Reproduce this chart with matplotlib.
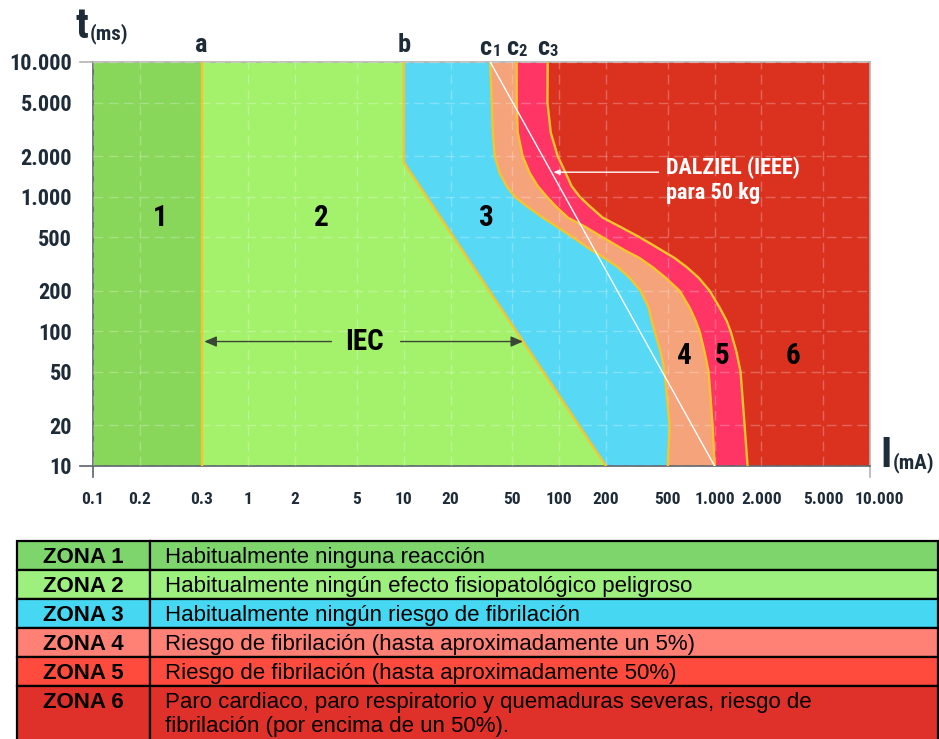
import numpy as np
import matplotlib
matplotlib.use('Agg')
import matplotlib.pyplot as plt
import matplotlib.transforms as mtransforms
from matplotlib.patches import Rectangle

# zone boundaries: current I in mA, duration t in ms
a_current = 0.5
b_current = [10, 10, 200]
b_time = [10000, 1800, 10]

c_time = [10000, 5000, 3000, 2000, 1500, 1200, 1000, 850, 700, 600, 500, 400, 350, 300,
          250, 200, 150, 120, 100, 70, 50, 20, 10]
c1_current = [36, 36.8, 37.4, 38.5, 41.4, 45.9, 51.7, 61.8, 78.3, 96.3, 122, 162, 196, 238,
              284, 334, 376, 394, 411, 450, 477, 514, 500]
c2_current = [53.3, 53.3, 54.1, 58.2, 64.6, 72.7, 83.1, 94.9, 113.5, 146, 190, 264, 329, 399,
              484, 596, 691, 755, 801, 863, 915, 971, 1000]
c3_current = [84.3, 84, 88.2, 97.8, 110, 120, 135.5, 157, 190, 245, 329, 456, 553, 661,
              789, 929, 1077, 1194, 1268, 1384, 1469, 1560, 1630]

dalziel_current = [36, 1000]
dalziel_time = [10000, 10]

x_ticks = [0.1, 0.2, a_current, 1, 2, 5, 10, 20, 50, 100, 200, 500, 1000, 2000, 5000, 10000]
x_labels = ['0.1', '0.2', '0.3', '1', '2', '5', '10', '20', '50', '100', '200', '500',
            '1.000', '2.000', '5.000', '10.000']
y_ticks = [10, 20, 50, 100, 200, 500, 1000, 2000, 5000, 10000]
y_labels = ['10', '20', '50', '100', '200', '500', '1.000', '2.000', '5.000', '10.000']

zone_names = ['ZONA 1', 'ZONA 2', 'ZONA 3', 'ZONA 4', 'ZONA 5', 'ZONA 6']
zone_texts = [
    'Habitualmente ninguna reacción',
    'Habitualmente ningún efecto fisiopatológico peligroso',
    'Habitualmente ningún riesgo de fibrilación',
    'Riesgo de fibrilación (hasta aproximadamente un 5%)',
    'Riesgo de fibrilación (hasta aproximadamente 50%)',
    'Paro cardiaco, paro respiratorio y quemaduras severas, riesgo de\n'
    'fibrilación (por encima de un 50%).',
]

zone_colors = ['#88d65a', '#a4f26c', '#57d9f6', '#f5a37b', '#ff3566', '#db3220']
row_colors = ['#7ed56b', '#9df07e', '#46d8f2', '#ff8075', '#ff4b3d', '#e0302a']
edge_color = '#f7c52b'
ink = '#1e2b38'
cond = 'Roboto Condensed'
table_font = 'Liberation Sans'

fig = plt.figure(figsize=(9.39, 7.39), dpi=100)
ax = fig.add_axes([93 / 939, 1 - 466 / 739, 777 / 939, 404 / 739])
ax.set_xscale('log')
ax.set_yscale('log')
ax.set_xlim(0.1, 10000)
ax.set_ylim(10, 10000)
ax.set_facecolor(zone_colors[5])


def fill_left(cur, tim, color):
    xs = [0.1] + list(cur) + [0.1]
    ys = [tim[0]] + list(tim) + [tim[-1]]
    ax.fill(xs, ys, color=color, lw=0, zorder=1)


fill_left(c3_current, c_time, zone_colors[4])
fill_left(c2_current, c_time, zone_colors[3])
fill_left(c1_current, c_time, zone_colors[2])
fill_left(b_current, b_time, zone_colors[1])
fill_left([a_current, a_current], [10000, 10], zone_colors[0])

ax.grid(True, color='white', alpha=0.25, ls=(0, (7, 4)), lw=1)
ax.set_axisbelow(False)

for cur, tim in [([a_current, a_current], [10000, 10]), (b_current, b_time),
                 (c1_current, c_time), (c2_current, c_time), (c3_current, c_time)]:
    ax.plot(cur, tim, color=edge_color, lw=1.7, zorder=3, solid_joinstyle='round')
ax.plot(dalziel_current, dalziel_time, color='white', lw=1, zorder=4)

ax.set_xticks(x_ticks)
ax.set_xticklabels(x_labels)
ax.set_yticks(y_ticks)
ax.set_yticklabels(y_labels)
ax.minorticks_off()
ax.tick_params(length=0)
ax.tick_params(axis='y', pad=15)
ax.tick_params(axis='x', pad=19)
for lab in ax.get_yticklabels():
    lab.set(family=cond, weight='bold', size=16, color=ink)
for lab in ax.get_xticklabels():
    lab.set(family=cond, weight='bold', size=12.5, color=ink)
last = ax.get_xticklabels()[-1]
last.set_transform(last.get_transform() + mtransforms.ScaledTranslation(7 / 72, 0, fig.dpi_scale_trans))

for side in ['left', 'bottom']:
    ax.spines[side].set(color='#5a636b', lw=1.2)
for side in ['top', 'right']:
    ax.spines[side].set(color='#b4b4b4', lw=1.2)
ax.plot([-0.017, 0], [0, 0], transform=ax.transAxes, color='#5a636b', lw=1.2, clip_on=False)
ax.plot([-0.017, 0], [1, 1], transform=ax.transAxes, color='#b4b4b4', lw=1.2, clip_on=False)
ax.plot([0, 0], [0, -0.027], transform=ax.transAxes, color='#5a636b', lw=1.2, clip_on=False)
ax.plot([1, 1], [0, -0.027], transform=ax.transAxes, color='#b4b4b4', lw=1.2, clip_on=False)

# curve names above the plot
for txt, cur in [('a', a_current), ('b', b_current[0])]:
    ax.annotate(txt, xy=(cur, 10000), xytext=(0, 7), textcoords='offset points',
                ha='center', va='baseline', family=cond, weight='bold', size=19, color=ink)
for k, cur in enumerate([c1_current[0], c2_current[0], c3_current[0]], start=1):
    ax.annotate('c', xy=(cur, 10000), xytext=(1, 5), textcoords='offset points',
                ha='right', va='baseline', family=cond, weight='bold', size=19, color=ink)
    ax.annotate(str(k), xy=(cur, 10000), xytext=(1.5, 4), textcoords='offset points',
                ha='left', va='baseline', family=cond, weight='bold', size=12, color=ink)

# zone numbers
zone_label_pos = [(0.27, 690), (2.97, 690), (34, 690), (640, 66), (1110, 66), (3180, 66)]
for k, (xp, yp) in enumerate(zone_label_pos, start=1):
    ax.text(xp, yp, str(k), ha='center', va='center', family=cond, weight='bold',
            size=21, color='black', zorder=5)

# IEC span arrows
iec_t = 84
b_at_iec = 10 ** np.interp(np.log10(iec_t), np.log10(b_time[::-1]), np.log10(b_current[::-1]))
arrow = dict(arrowstyle='-|>,head_length=0.35,head_width=0.15', color='#3a4636', lw=1,
             shrinkB=0)
ax.annotate('IEC', xy=(a_current * 1.04, iec_t), xytext=(5.6, iec_t), ha='center', va='center',
            family=cond, weight='bold', size=21, color='black', zorder=5,
            arrowprops=dict(arrow, shrinkA=8))
ax.annotate('IEC', xy=(b_at_iec, iec_t), xytext=(5.6, iec_t), ha='center', va='center',
            family=cond, weight='bold', size=21, color='none', zorder=5,
            arrowprops=dict(arrow, shrinkA=10))

# Dalziel annotation
dz_t = 1520
dz_at = 10 ** np.interp(np.log10(dz_t), np.log10(dalziel_time[::-1]), np.log10(dalziel_current[::-1]))
ax.annotate('', xy=(dz_at * 1.03, dz_t), xytext=(436, dz_t),
            arrowprops=dict(arrowstyle='-|>,head_length=0.35,head_width=0.15', color='white',
                            lw=1, shrinkA=0, shrinkB=0), zorder=5)
ax.text(490, 1330, 'DALZIEL (IEEE)\npara 50 kg', ha='left', va='center', family=cond,
        weight='bold', size=16, color='white', linespacing=1.2, zorder=5)

# axis titles
fig.text(76 / 939, 1 - 38 / 739, 't', ha='left', va='baseline', family=cond, weight='bold',
         size=30, color=ink)
fig.text(90 / 939, 1 - 39 / 739, '(ms)', ha='left', va='baseline', family=cond, weight='bold',
         size=15, color=ink)
fig.text(880 / 939, 1 - 467 / 739, 'I', ha='left', va='baseline', family=cond, weight='bold',
         size=30, color=ink)
fig.text(893 / 939, 1 - 468 / 739, '(mA)', ha='left', va='baseline', family=cond, weight='bold',
         size=15, color=ink)

# zone description table
tab = fig.add_axes([0, 0, 1, 205 / 739])
tab.set_xlim(0, 939)
tab.set_ylim(739, 534)
tab.axis('off')
row_top, row_h = 541, 29
for k, (name, desc, col) in enumerate(zip(zone_names, zone_texts, row_colors)):
    top = row_top + k * row_h
    h = row_h if k < 5 else 80
    for x0, w in [(17, 133), (150, 788)]:
        tab.add_patch(Rectangle((x0, top), w, h, facecolor=col, edgecolor='black', lw=1.6,
                                clip_on=True))
    lines = desc.split('\n')
    tab.text(83, top + 22, name, ha='center', va='baseline', family=table_font, weight='bold',
             size=16, color='black')
    tab.text(165, top + 22, lines[0], ha='left', va='baseline', family=table_font,
             size=16, color='black')
    if len(lines) > 1:
        tab.text(165, top + 46, lines[1], ha='left', va='baseline', family=table_font,
                 size=16, color='black')

fig.savefig('out.png', dpi=100)
